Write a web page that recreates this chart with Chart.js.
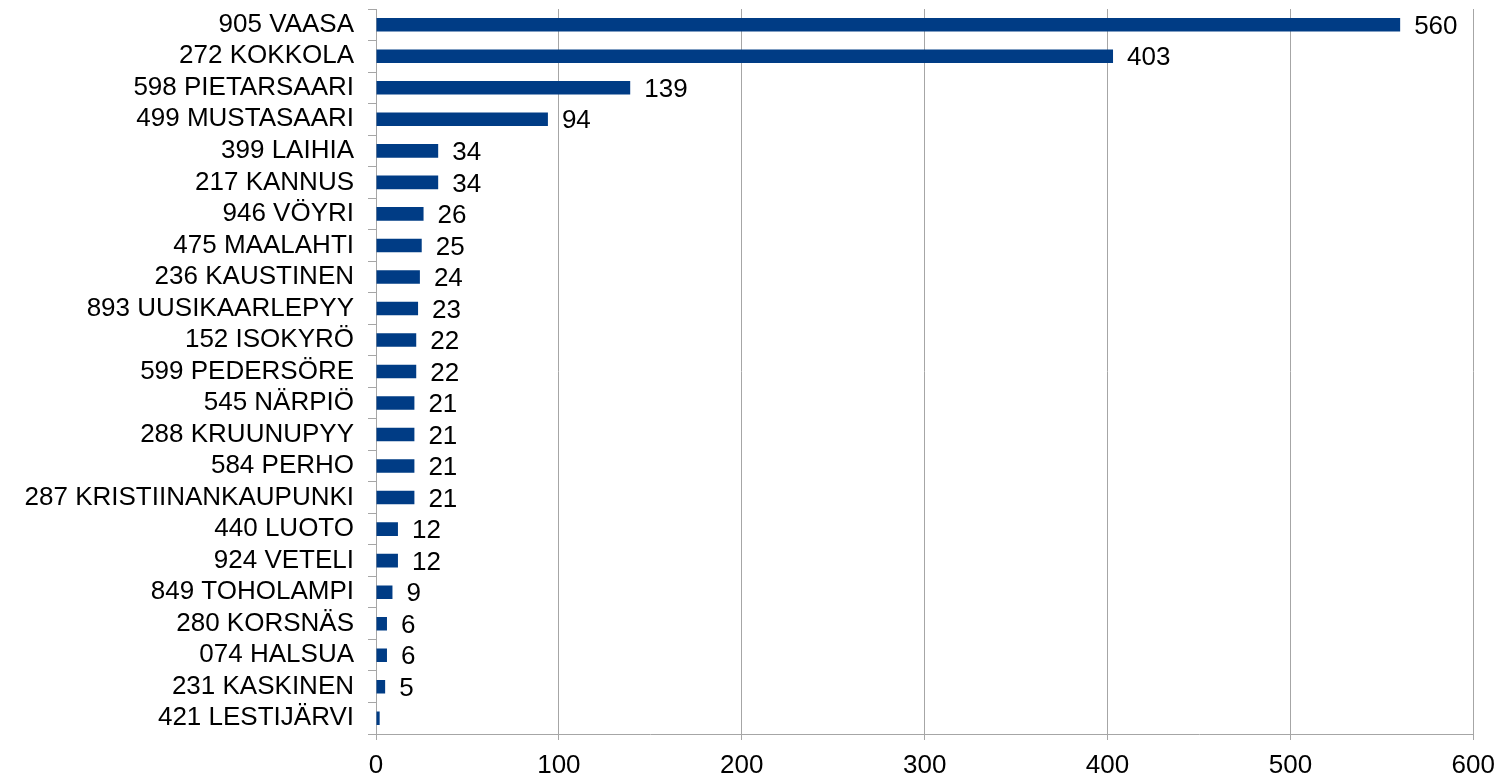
<!DOCTYPE html>
<html lang="fi">
<head>
    <meta charset="UTF-8">
    <title>Kunnat</title>
    <script src="https://cdn.jsdelivr.net/npm/chart.js"></script>
    <style>
        body {
            margin: 0;
            background: #fff;
            overflow: hidden;
        }
        .chart-container {
            position: relative;
            width: 1505px;
            height: 778px;
        }
    </style>
</head>
<body>
    <div class="chart-container">
        <canvas id="barChart"></canvas>
    </div>
    <script>
        // Chart data
        const municipalities = [
            '905 VAASA', '272 KOKKOLA', '598 PIETARSAARI', '499 MUSTASAARI',
            '399 LAIHIA', '217 KANNUS', '946 VÖYRI', '475 MAALAHTI',
            '236 KAUSTINEN', '893 UUSIKAARLEPYY', '152 ISOKYRÖ', '599 PEDERSÖRE',
            '545 NÄRPIÖ', '288 KRUUNUPYY', '584 PERHO', '287 KRISTIINANKAUPUNKI',
            '440 LUOTO', '924 VETELI', '849 TOHOLAMPI', '280 KORSNÄS',
            '074 HALSUA', '231 KASKINEN', '421 LESTIJÄRVI'
        ];
        const counts = [560, 403, 139, 94, 34, 34, 26, 25, 24, 23, 22, 22, 21, 21, 21, 21, 12, 12, 9, 6, 6, 5, 2];
        // labels shown next to bars (the last one has none in the original)
        const shownLabels = ['560', '403', '139', '94', '34', '34', '26', '25', '24', '23', '22', '22',
            '21', '21', '21', '21', '12', '12', '9', '6', '6', '5', ''];
        const xTicks = [0, 100, 200, 300, 400, 500, 600];

        const font = "'Liberation Sans', Arial, sans-serif";
        const gridColor = '#a6a6a6';

        // draws value text to the right of each bar
        const valueLabels = {
            id: 'valueLabels',
            afterDatasetsDraw(chart) {
                const ctx = chart.ctx;
                const meta = chart.getDatasetMeta(0);
                ctx.save();
                ctx.font = '26px ' + font;
                ctx.fillStyle = '#000';
                ctx.textAlign = 'left';
                ctx.textBaseline = 'middle';
                meta.data.forEach((bar, i) => {
                    ctx.fillText(shownLabels[i], bar.x + 14, bar.y + 2);
                });
                ctx.restore();
            }
        };

        const ctx = document.getElementById('barChart').getContext('2d');
        new Chart(ctx, {
            type: 'bar',
            data: {
                labels: municipalities,
                datasets: [{
                    data: counts,
                    backgroundColor: '#003c85',
                    borderWidth: 0,
                    barPercentage: 0.43,
                    categoryPercentage: 1
                }]
            },
            options: {
                indexAxis: 'y',
                responsive: true,
                maintainAspectRatio: false,
                animation: false,
                layout: {
                    padding: { top: 9, right: 31, bottom: 0, left: 0 }
                },
                plugins: {
                    legend: { display: false },
                    tooltip: { enabled: false }
                },
                scales: {
                    x: {
                        min: 0,
                        max: 600,
                        afterBuildTicks: (axis) => {
                            axis.ticks = xTicks.map(v => ({ value: v }));
                        },
                        grid: {
                            color: gridColor,
                            lineWidth: 1,
                            tickLength: 6
                        },
                        border: { color: gridColor },
                        ticks: {
                            color: '#000',
                            padding: 10,
                            font: { family: font, size: 26 },
                            maxRotation: 0
                        },
                        afterFit: (axis) => {
                            axis.height = 44;
                            axis.paddingLeft = 0;
                        }
                    },
                    y: {
                        grid: {
                            offset: true,
                            drawOnChartArea: false,
                            color: gridColor,
                            tickLength: 8
                        },
                        border: { color: gridColor },
                        ticks: {
                            color: '#000',
                            padding: 14,
                            autoSkip: false,
                            font: { family: font, size: 26 }
                        },
                        afterFit: (axis) => {
                            axis.width = 376;
                            axis.paddingTop = 0;
                            axis.paddingBottom = 0;
                        }
                    }
                }
            },
            plugins: [valueLabels]
        });
    </script>
</body>
</html>
